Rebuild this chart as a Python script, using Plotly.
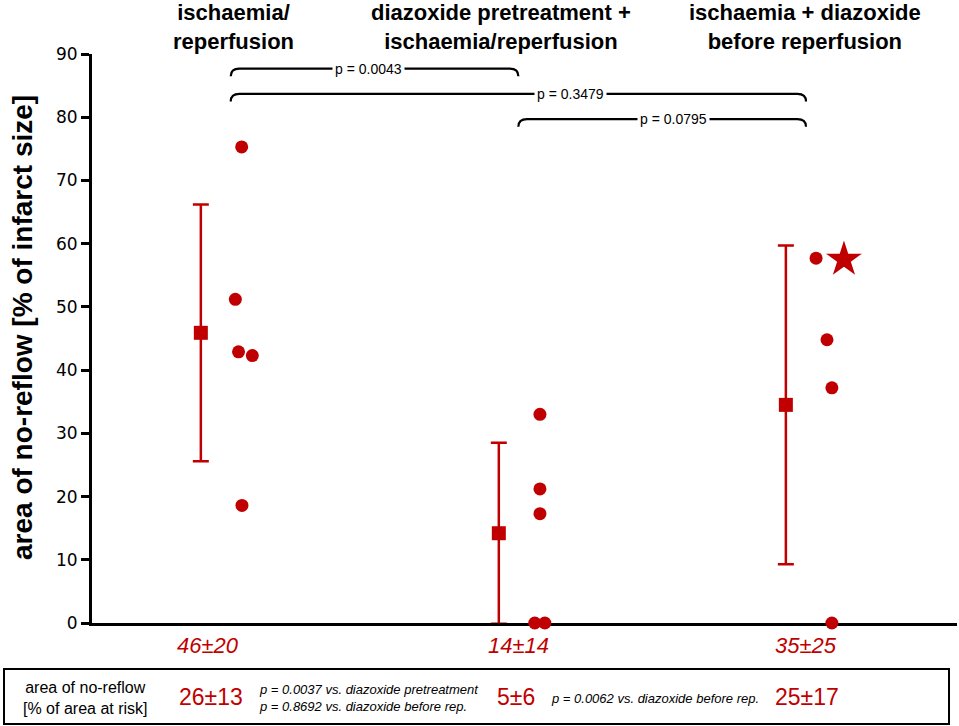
import plotly.graph_objects as go

# group labels (header) and values
groups = ["ischaemia/<br>reperfusion",
          "diazoxide pretreatment +<br>ischaemia/reperfusion",
          "ischaemia + diazoxide<br>before reperfusion"]

ir_values = [75.3, 51.2, 42.9, 42.3, 18.6]
dzx_pre_values = [33.0, 21.2, 17.3, 0.0, 0.0]
dzx_rep_values = [57.7, 44.8, 37.2, 0.0]
star_value = 57.5  # outlier in 3rd group, drawn as star

means = [45.9, 14.2, 34.5]
sds = [20.3, 14.3, 25.2]
mean_labels = ["46±20", "14±14", "35±25"]

# area of no-reflow [% of area at risk]
risk_labels = ["26±13", "5±6", "25±17"]
risk_pvals = ["p = 0.0037 vs. diazoxide pretreatment<br>p = 0.8692 vs. diazoxide before rep.",
              "p = 0.0062 vs. diazoxide before rep."]

# pairwise comparisons: (group a, group b, label)
comparisons = [(0, 1, "p = 0.0043"), (0, 2, "p = 0.3479"), (1, 2, "p = 0.0795")]
comp_levels = [87.7, 83.7, 79.7]
comp_label_x = [1.48, 2.18, 2.54]

# horizontal scatter of the individual animals (layout only)
jitter = [[0.038, 0.016, 0.027, 0.075, 0.039],
          [0.075, 0.075, 0.075, 0.057, 0.092],
          [0.035, 0.073, 0.090, 0.090]]
star_jitter = 0.132
mean_shift = [-0.104, -0.068, -0.070]
label_shift = [-0.08, 0.0, 0.0]

RED = "#C00000"
FONT = "Liberation Sans"
W, H = 959, 726
L, R, T, B = 92, 2, 54, 103


def px(x):
    return (x - L) / (W - L - R)


def py(y):
    return (H - B - y) / (H - T - B)


def note(x, y, text, size, color="black", xanchor="center", **kw):
    fig.add_annotation(x=px(x), y=py(y), xref="paper", yref="paper", text=text,
                       showarrow=False, xanchor=xanchor, yanchor="middle",
                       font=dict(family=FONT, size=size, color=color), **kw)


fig = go.Figure()

# mean +/- SD
fig.add_trace(go.Scatter(
    x=[i + 1 + mean_shift[i] for i in range(3)],
    y=means,
    mode="markers",
    marker=dict(symbol="square", size=14, color=RED),
    error_y=dict(type="data", array=sds, visible=True, color=RED, thickness=2.5, width=8),
    cliponaxis=False,
    showlegend=False,
))

# individual values
for i, vals in enumerate([ir_values, dzx_pre_values, dzx_rep_values]):
    fig.add_trace(go.Scatter(
        x=[i + 1 + j for j in jitter[i]],
        y=vals,
        mode="markers",
        marker=dict(symbol="circle", size=13, color=RED),
        cliponaxis=False,
        showlegend=False,
    ))

fig.add_trace(go.Scatter(
    x=[3 + star_jitter],
    y=[star_value],
    mode="markers",
    marker=dict(symbol="star", size=27, color=RED),
    cliponaxis=False,
    showlegend=False,
))

# comparison brackets
for (a, b, lab), lvl, lx in zip(comparisons, comp_levels, comp_label_x):
    x0, x1 = a + 1, b + 1
    d, dx = 1.2, 0.03
    path = (f"M {x0},{lvl - d} Q {x0},{lvl} {x0 + dx},{lvl} "
            f"L {x1 - dx},{lvl} Q {x1},{lvl} {x1},{lvl - d}")
    fig.add_shape(type="path", path=path, xref="x", yref="y",
                  line=dict(color="black", width=2.2))
    fig.add_annotation(x=lx, y=lvl, xref="x", yref="y", text=lab, showarrow=False,
                       font=dict(family=FONT, size=14, color="black"),
                       bgcolor="white", borderpad=2)

# group headers
for i, g in enumerate(groups):
    note([233, 501, 805][i], 27, f"<b>{g}</b>", 22)

# mean +/- SD labels under the axis
for i, lab in enumerate(mean_labels):
    fig.add_annotation(x=i + 1 + label_shift[i], y=py(645), xref="x", yref="paper",
                       text=f"<i>{lab}</i>", showarrow=False, xanchor="center",
                       font=dict(family=FONT, size=22, color=RED), yanchor="middle")

# y axis title
note(22, 328, "<b>area of no-reflow [% of infarct size]</b>", 28, textangle=-90)

# table box below the chart
fig.add_shape(type="rect", xref="paper", yref="paper",
              x0=px(4), x1=px(949), y0=py(724), y1=py(669),
              line=dict(color="black", width=2))
note(85, 698, "area of no-reflow<br>[% of area at risk]", 16)
for i, lab in enumerate(risk_labels):
    note([211, 516, 807][i], 697, lab, 23, RED)
for i, lab in enumerate(risk_pvals):
    note([257, 549][i], 698, f"<i>{lab}</i>", 13, xanchor="left", align="left")

fig.update_layout(
    width=W, height=H,
    margin=dict(l=L, r=R, t=T, b=B),
    plot_bgcolor="white", paper_bgcolor="white",
    font=dict(family=FONT, color="black"),
    xaxis=dict(range=[0.5176, 3.525], showgrid=False, zeroline=False, showticklabels=False,
               ticks="", showline=True, linecolor="black", linewidth=3, layer="below traces"),
    yaxis=dict(range=[0, 90], dtick=10, showgrid=False, zeroline=False,
               showline=True, linecolor="black", linewidth=3, ticks="outside",
               ticklen=8, tickwidth=2.5, tickcolor="black",
               tickfont=dict(family="DejaVu Sans", size=17, color="black"),
               layer="below traces"),
)

fig.write_html("out.html", config={"displayModeBar": False},
               post_script="document.body.style.margin='0';")
